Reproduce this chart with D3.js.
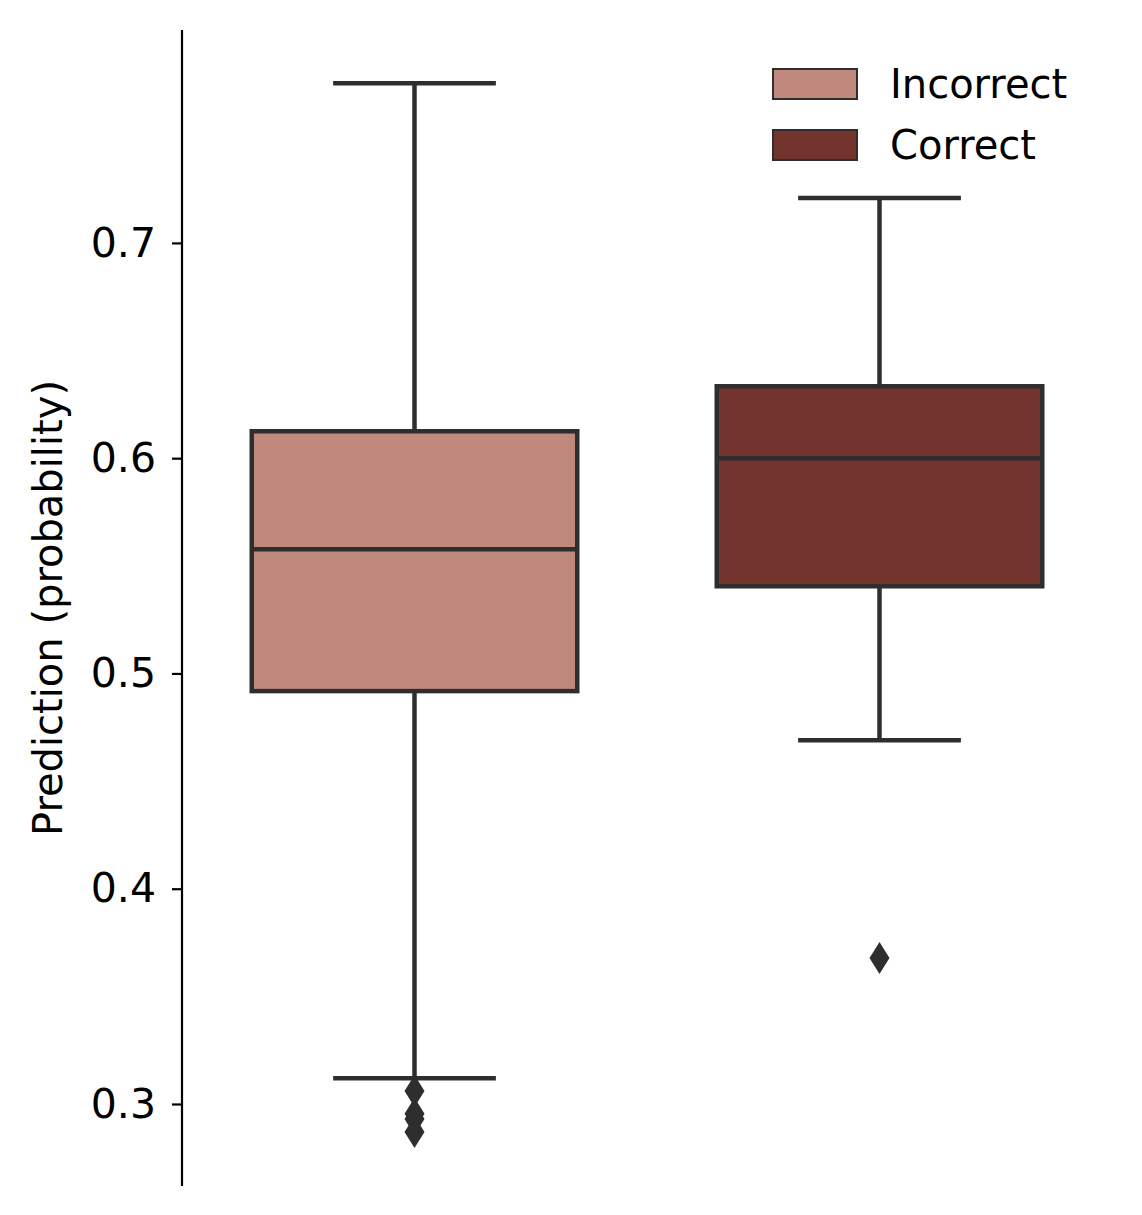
<!DOCTYPE html>
<html><head><meta charset="utf-8">
<script src="https://cdn.jsdelivr.net/npm/d3@7"></script>
<style>body{margin:0;background:#fff}text{font-family:"DejaVu Sans",sans-serif}</style>
</head><body>
<script>
const categories = ["Incorrect", "Correct"];
const colors = ["#c1897e", "#73342d"];
const whiskerLow = [0.312, 0.469];
const q1 = [0.4918, 0.5405];
const median = [0.5577, 0.600];
const q3 = [0.6125, 0.6334];
const whiskerHigh = [0.7742, 0.7209];
const outliers = [[0.306, 0.2955, 0.293, 0.287], [0.3678]];
const yTicks = [0.3, 0.4, 0.5, 0.6, 0.7];

const W = 1142, H = 1215, line = "#2e2e2e";
const svg = d3.select("body").append("svg").attr("width", W).attr("height", H);

const y = d3.scaleLinear().domain([0.2619, 0.7989]).range([1186, 30]);
const x = d3.scaleBand().domain(categories).range([182, 1112]).paddingInner(0.3).paddingOuter(0.15);

// y axis
const ax = svg.append("g").attr("transform", "translate(182,0)")
    .call(d3.axisLeft(y).tickValues(yTicks).tickFormat(d3.format(".1f")).tickSize(10).tickPadding(16));
ax.select(".domain").attr("d", "M0,30V1186").attr("stroke", "#000").attr("stroke-width", 2.2);
ax.selectAll(".tick line").attr("stroke", "#000").attr("stroke-width", 2.2);
ax.selectAll(".tick text").attr("font-size", 41).attr("fill", "#000");

svg.append("text")
    .attr("transform", "translate(62,608) rotate(-90)")
    .attr("text-anchor", "middle")
    .attr("font-size", 40)
    .text("Prediction (probability)");

categories.forEach((c, i) => {
    const cx = x(c) + x.bandwidth() / 2;
    const g = svg.append("g").attr("stroke", line).attr("stroke-width", 4.5);
    g.append("line").attr("x1", cx).attr("x2", cx).attr("y1", y(whiskerHigh[i])).attr("y2", y(q3[i]));
    g.append("line").attr("x1", cx).attr("x2", cx).attr("y1", y(q1[i])).attr("y2", y(whiskerLow[i]));
    const cap = x.bandwidth() / 4;
    [whiskerHigh[i], whiskerLow[i]].forEach(v =>
        g.append("line").attr("x1", cx - cap).attr("x2", cx + cap).attr("y1", y(v)).attr("y2", y(v)));
    g.append("rect").attr("x", x(c)).attr("width", x.bandwidth())
        .attr("y", y(q3[i])).attr("height", y(q1[i]) - y(q3[i]))
        .attr("fill", colors[i]);
    g.append("line").attr("x1", x(c)).attr("x2", x(c) + x.bandwidth())
        .attr("y1", y(median[i])).attr("y2", y(median[i]));
    outliers[i].forEach(v =>
        svg.append("path").attr("d", "M0,-16L10,0L0,16L-10,0Z")
            .attr("transform", `translate(${cx},${y(v)})`).attr("fill", line));
});

// legend
const lg = svg.append("g").attr("transform", "translate(773,69)");
categories.forEach((c, i) => {
    lg.append("rect").attr("x", 0).attr("y", i * 61).attr("width", 84).attr("height", 30)
        .attr("fill", colors[i]).attr("stroke", line).attr("stroke-width", 2);
    lg.append("text").attr("x", 117).attr("y", i * 61 + 15).attr("dy", "0.35em")
        .attr("font-size", 40).text(c);
});
</script>
</body></html>
